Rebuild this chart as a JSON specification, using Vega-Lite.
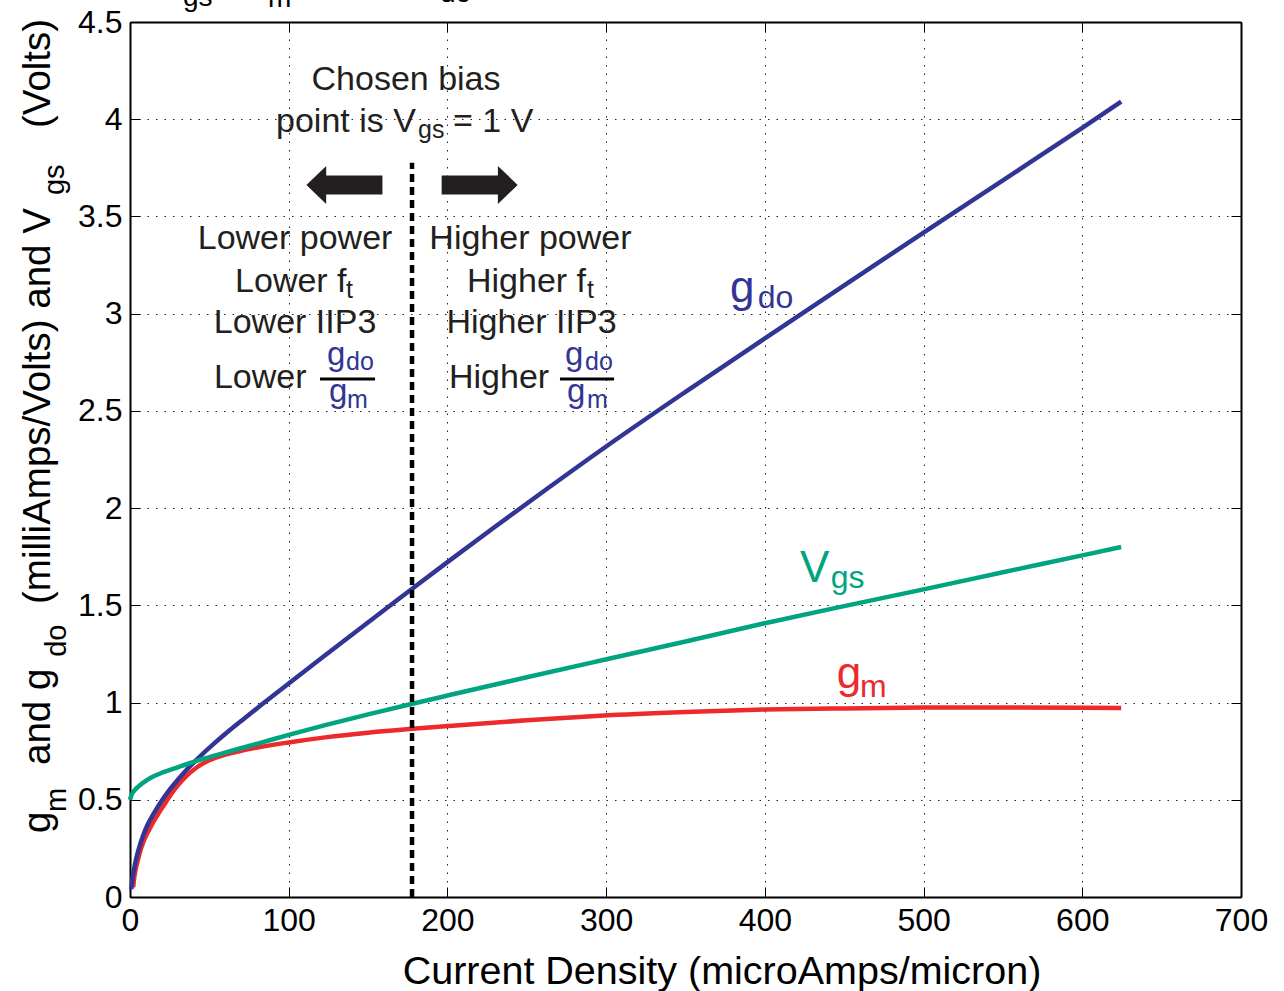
{
  "$schema": "https://vega.github.io/schema/vega-lite/v6.json",
  "width": 1111,
  "height": 875,
  "autosize": {"type": "none"},
  "padding": {"left": 130, "top": 22, "right": 43, "bottom": 94},
  "background": "white",
  "config": {
    "view": {"stroke": null},
    "text": {"font": "Liberation Sans"},
    "axis": {"labelFont": "Liberation Sans"}
  },
  "datasets": {
    "curves": [
      {"s": "gm", "x": 2, "y": 0.05}, {"s": "gm", "x": 2.5, "y": 0.09}, {"s": "gm", "x": 3.5, "y": 0.14}, {"s": "gm", "x": 5, "y": 0.19}, {"s": "gm", "x": 7, "y": 0.25}, {"s": "gm", "x": 9, "y": 0.295}, {"s": "gm", "x": 12, "y": 0.345}, {"s": "gm", "x": 15, "y": 0.39}, {"s": "gm", "x": 18, "y": 0.43}, {"s": "gm", "x": 22, "y": 0.48}, {"s": "gm", "x": 26, "y": 0.53}, {"s": "gm", "x": 30, "y": 0.573}, {"s": "gm", "x": 35, "y": 0.618}, {"s": "gm", "x": 42, "y": 0.666}, {"s": "gm", "x": 50, "y": 0.703}, {"s": "gm", "x": 60, "y": 0.732}, {"s": "gm", "x": 70, "y": 0.752}, {"s": "gm", "x": 81, "y": 0.77}, {"s": "gm", "x": 100, "y": 0.795}, {"s": "gm", "x": 123, "y": 0.821}, {"s": "gm", "x": 150, "y": 0.845}, {"s": "gm", "x": 178, "y": 0.865}, {"s": "gm", "x": 200, "y": 0.879}, {"s": "gm", "x": 250, "y": 0.909}, {"s": "gm", "x": 296, "y": 0.932}, {"s": "gm", "x": 350, "y": 0.951}, {"s": "gm", "x": 400, "y": 0.964}, {"s": "gm", "x": 450, "y": 0.97}, {"s": "gm", "x": 500, "y": 0.974}, {"s": "gm", "x": 550, "y": 0.975}, {"s": "gm", "x": 600, "y": 0.973}, {"s": "gm", "x": 624.5, "y": 0.972},
      {"s": "gdo", "x": 0.8, "y": 0.04}, {"s": "gdo", "x": 1.5, "y": 0.09}, {"s": "gdo", "x": 2.5, "y": 0.14}, {"s": "gdo", "x": 4, "y": 0.2}, {"s": "gdo", "x": 6, "y": 0.26}, {"s": "gdo", "x": 8, "y": 0.31}, {"s": "gdo", "x": 11, "y": 0.37}, {"s": "gdo", "x": 15, "y": 0.43}, {"s": "gdo", "x": 20, "y": 0.495}, {"s": "gdo", "x": 25, "y": 0.552}, {"s": "gdo", "x": 30, "y": 0.602}, {"s": "gdo", "x": 36, "y": 0.657}, {"s": "gdo", "x": 44, "y": 0.722}, {"s": "gdo", "x": 52, "y": 0.782}, {"s": "gdo", "x": 62, "y": 0.852}, {"s": "gdo", "x": 72, "y": 0.918}, {"s": "gdo", "x": 82, "y": 0.983}, {"s": "gdo", "x": 100, "y": 1.098}, {"s": "gdo", "x": 123, "y": 1.243}, {"s": "gdo", "x": 146, "y": 1.387}, {"s": "gdo", "x": 168, "y": 1.525}, {"s": "gdo", "x": 178, "y": 1.587}, {"s": "gdo", "x": 200, "y": 1.722}, {"s": "gdo", "x": 230, "y": 1.904}, {"s": "gdo", "x": 260, "y": 2.083}, {"s": "gdo", "x": 300, "y": 2.317}, {"s": "gdo", "x": 350, "y": 2.598}, {"s": "gdo", "x": 400, "y": 2.873}, {"s": "gdo", "x": 450, "y": 3.146}, {"s": "gdo", "x": 500, "y": 3.417}, {"s": "gdo", "x": 550, "y": 3.686}, {"s": "gdo", "x": 600, "y": 3.955}, {"s": "gdo", "x": 624.5, "y": 4.09},
      {"s": "vgs", "x": 0, "y": 0.5}, {"s": "vgs", "x": 1, "y": 0.525}, {"s": "vgs", "x": 2, "y": 0.54}, {"s": "vgs", "x": 3.2, "y": 0.552}, {"s": "vgs", "x": 5, "y": 0.566}, {"s": "vgs", "x": 7, "y": 0.58}, {"s": "vgs", "x": 9.5, "y": 0.595}, {"s": "vgs", "x": 14, "y": 0.617}, {"s": "vgs", "x": 19, "y": 0.635}, {"s": "vgs", "x": 24, "y": 0.65}, {"s": "vgs", "x": 30, "y": 0.667}, {"s": "vgs", "x": 36, "y": 0.684}, {"s": "vgs", "x": 44, "y": 0.705}, {"s": "vgs", "x": 55, "y": 0.731}, {"s": "vgs", "x": 68, "y": 0.761}, {"s": "vgs", "x": 81, "y": 0.79}, {"s": "vgs", "x": 100, "y": 0.834}, {"s": "vgs", "x": 123, "y": 0.884}, {"s": "vgs", "x": 150, "y": 0.939}, {"s": "vgs", "x": 178, "y": 0.994}, {"s": "vgs", "x": 200, "y": 1.036}, {"s": "vgs", "x": 250, "y": 1.13}, {"s": "vgs", "x": 296, "y": 1.215}, {"s": "vgs", "x": 350, "y": 1.314}, {"s": "vgs", "x": 400, "y": 1.408}, {"s": "vgs", "x": 450, "y": 1.496}, {"s": "vgs", "x": 500, "y": 1.582}, {"s": "vgs", "x": 550, "y": 1.67}, {"s": "vgs", "x": 600, "y": 1.757}, {"s": "vgs", "x": 624.5, "y": 1.8}
    ],
    "bias": [{"x": 177.7, "y": 0, "y2": 3.776}],
    "arrows": [{"dir": "left", "x": 135.1, "y": 3.662}, {"dir": "right", "x": 220.3, "y": 3.662}],
    "annC": [
      {"t": "Chosen bias", "x": 173.9, "y": 4.15},
      {"t": "Lower power", "x": 104.0, "y": 3.333},
      {"t": "Higher power", "x": 252.3, "y": 3.333},
      {"t": "Lower IIP3", "x": 104.0, "y": 2.901},
      {"t": "Higher IIP3", "x": 253.0, "y": 2.901}
    ],
    "annL": [
      {"t": "point is V", "x": 92.0, "y": 3.936},
      {"t": "= 1 V", "x": 203.5, "y": 3.936},
      {"t": "Lower f", "x": 66.2, "y": 3.113},
      {"t": "Higher f", "x": 212.3, "y": 3.113},
      {"t": "Lower", "x": 52.9, "y": 2.618},
      {"t": "Higher", "x": 201.0, "y": 2.618}
    ],
    "annS": [
      {"t": "gs", "x": 181.5, "y": 3.906},
      {"t": "t", "x": 136.1, "y": 3.08},
      {"t": "t", "x": 288.0, "y": 3.08}
    ],
    "fracG": [
      {"t": "g", "x": 124.1, "y": 2.736},
      {"t": "g", "x": 125.4, "y": 2.546},
      {"t": "g", "x": 274.1, "y": 2.736},
      {"t": "g", "x": 275.3, "y": 2.546}
    ],
    "fracS": [
      {"t": "do", "x": 136.1, "y": 2.71},
      {"t": "m", "x": 136.7, "y": 2.515},
      {"t": "do", "x": 286.7, "y": 2.71},
      {"t": "m", "x": 288.0, "y": 2.515}
    ],
    "bars": [
      {"x": 119.7, "x2": 154.4, "y": 2.664},
      {"x": 270.9, "x2": 305.0, "y": 2.664}
    ],
    "labMain": [
      {"s": "gdo", "t": "g", "x": 378.1, "y": 3.062},
      {"s": "vgs", "t": "V", "x": 422.2, "y": 1.622},
      {"s": "gm", "t": "g", "x": 445.3, "y": 1.074}
    ],
    "labSub": [
      {"s": "gdo", "t": "do", "x": 395.5, "y": 3.03},
      {"s": "vgs", "t": "gs", "x": 441.5, "y": 1.588},
      {"s": "gm", "t": "m", "x": 460.0, "y": 1.03}
    ],
    "yMain": [
      {"t": "g", "x": -50.4, "y": 0.329},
      {"t": "and g", "x": -50.4, "y": 0.679},
      {"t": "(milliAmps/Volts) and V", "x": -50.4, "y": 1.507},
      {"t": "(Volts)", "x": -50.4, "y": 3.955}
    ],
    "ySub": [
      {"t": "m", "x": -40.3, "y": 0.437},
      {"t": "do", "x": -40.3, "y": 1.235},
      {"t": "gs", "x": -41.6, "y": 3.61}
    ],
    "xTitle": [{"t": "Current Density (microAmps/micron)", "x": 373.0, "y": -0.447}],
    "topFrag": [
      {"t": "gs", "x": 33.4, "y": 4.583},
      {"t": "m", "x": 87.0, "y": 4.578},
      {"t": "do", "x": 195.3, "y": 4.603}
    ]
  },
  "layer": [
    {
      "data": {"name": "curves"},
      "mark": {"type": "line", "strokeWidth": 4.5, "interpolate": "monotone"},
      "encoding": {
        "x": {"field": "x", "type": "quantitative", "scale": {"domain": [0, 700], "nice": false, "zero": false},
          "axis": {"orient": "bottom", "title": null, "values": [0, 100, 200, 300, 400, 500, 600, 700],
            "grid": true, "gridColor": "#222222", "gridDash": [1.5, 7], "gridWidth": 1,
            "domainColor": "#000000", "domainWidth": 2, "tickColor": "#000000", "tickSize": -10, "tickWidth": 1,
            "labelFont": "Liberation Sans", "labelFontSize": 32, "labelColor": "#000000", "labelPadding": 18.6, "labelFlush": false, "labelOverlap": false, "labelBound": false}},
        "y": {"field": "y", "type": "quantitative", "scale": {"domain": [0, 4.5], "nice": false, "zero": false},
          "axis": {"orient": "left", "title": null, "values": [0, 0.5, 1, 1.5, 2, 2.5, 3, 3.5, 4, 4.5], "labelExpr": "'' + datum.value",
            "grid": true, "gridColor": "#222222", "gridDash": [1.5, 7], "gridWidth": 1,
            "domainColor": "#000000", "domainWidth": 2, "tickColor": "#000000", "tickSize": -10, "tickWidth": 1,
            "labelFont": "Liberation Sans", "labelFontSize": 32, "labelColor": "#000000", "labelPadding": 18, "labelFlush": false, "labelOverlap": false, "labelBound": false}},
        "color": {"field": "s", "type": "nominal", "scale": {"domain": ["gm", "gdo", "vgs"], "range": ["#ec2a2c", "#323594", "#00a480"]}, "legend": null}
      }
    },
    {
      "data": {"name": "bias"},
      "mark": {"type": "rule", "strokeDash": [8, 5], "strokeWidth": 4.5, "color": "#000000"},
      "encoding": {
        "x": {"field": "x", "type": "quantitative", "scale": {"domain": [0, 700], "nice": false, "zero": false},
          "axis": {"orient": "top", "title": null, "labels": false, "grid": false, "values": [0, 100, 200, 300, 400, 500, 600, 700],
            "domainColor": "#000000", "domainWidth": 2, "tickColor": "#000000", "tickSize": -10, "tickWidth": 1}},
        "y": {"field": "y", "type": "quantitative", "scale": {"domain": [0, 4.5], "nice": false, "zero": false},
          "axis": {"orient": "right", "title": null, "labels": false, "grid": false, "values": [0, 0.5, 1, 1.5, 2, 2.5, 3, 3.5, 4, 4.5],
            "domainColor": "#000000", "domainWidth": 2, "tickColor": "#000000", "tickSize": -10, "tickWidth": 1}},
        "y2": {"field": "y2"}
      }
    },
    {
      "data": {"name": "arrows"},
      "mark": {"type": "point", "filled": true, "size": 5776, "opacity": 1, "color": "#231f20", "strokeWidth": 0},
      "encoding": {
        "x": {"field": "x", "type": "quantitative", "axis": null},
        "y": {"field": "y", "type": "quantitative", "axis": null},
        "shape": {"field": "dir", "type": "nominal", "legend": null,
          "scale": {"domain": ["left", "right"], "range": ["M-1,0L-0.48,-0.5L-0.48,-0.25L1,-0.25L1,0.25L-0.48,0.25L-0.48,0.5Z", "M1,0L0.48,-0.5L0.48,-0.25L-1,-0.25L-1,0.25L0.48,0.25L0.48,0.5Z"]}}
      }
    },
    {
      "data": {"name": "annC"},
      "mark": {"type": "text", "font": "Liberation Sans", "fontSize": 34, "align": "center", "baseline": "alphabetic", "color": "#231f20"},
      "encoding": {"x": {"field": "x", "type": "quantitative", "axis": null}, "y": {"field": "y", "type": "quantitative", "axis": null}, "text": {"field": "t"}}
    },
    {
      "data": {"name": "annL"},
      "mark": {"type": "text", "font": "Liberation Sans", "fontSize": 34, "align": "left", "baseline": "alphabetic", "color": "#231f20"},
      "encoding": {"x": {"field": "x", "type": "quantitative", "axis": null}, "y": {"field": "y", "type": "quantitative", "axis": null}, "text": {"field": "t"}}
    },
    {
      "data": {"name": "annS"},
      "mark": {"type": "text", "font": "Liberation Sans", "fontSize": 25, "align": "left", "baseline": "alphabetic", "color": "#231f20"},
      "encoding": {"x": {"field": "x", "type": "quantitative", "axis": null}, "y": {"field": "y", "type": "quantitative", "axis": null}, "text": {"field": "t"}}
    },
    {
      "data": {"name": "fracG"},
      "mark": {"type": "text", "font": "Liberation Sans", "fontSize": 33, "align": "left", "baseline": "alphabetic", "color": "#323594"},
      "encoding": {"x": {"field": "x", "type": "quantitative", "axis": null}, "y": {"field": "y", "type": "quantitative", "axis": null}, "text": {"field": "t"}}
    },
    {
      "data": {"name": "fracS"},
      "mark": {"type": "text", "font": "Liberation Sans", "fontSize": 25, "align": "left", "baseline": "alphabetic", "color": "#323594"},
      "encoding": {"x": {"field": "x", "type": "quantitative", "axis": null}, "y": {"field": "y", "type": "quantitative", "axis": null}, "text": {"field": "t"}}
    },
    {
      "data": {"name": "bars"},
      "mark": {"type": "rule", "strokeWidth": 3, "color": "#000000"},
      "encoding": {"x": {"field": "x", "type": "quantitative", "axis": null}, "x2": {"field": "x2"}, "y": {"field": "y", "type": "quantitative", "axis": null}}
    },
    {
      "data": {"name": "labMain"},
      "mark": {"type": "text", "font": "Liberation Sans", "fontSize": 44, "align": "left", "baseline": "alphabetic"},
      "encoding": {"x": {"field": "x", "type": "quantitative", "axis": null}, "y": {"field": "y", "type": "quantitative", "axis": null}, "text": {"field": "t"},
        "color": {"field": "s", "type": "nominal", "legend": null}}
    },
    {
      "data": {"name": "labSub"},
      "mark": {"type": "text", "font": "Liberation Sans", "fontSize": 32, "align": "left", "baseline": "alphabetic"},
      "encoding": {"x": {"field": "x", "type": "quantitative", "axis": null}, "y": {"field": "y", "type": "quantitative", "axis": null}, "text": {"field": "t"},
        "color": {"field": "s", "type": "nominal", "legend": null}}
    },
    {
      "data": {"name": "yMain"},
      "mark": {"type": "text", "font": "Liberation Sans", "fontSize": 38.5, "align": "left", "baseline": "alphabetic", "angle": 270, "color": "#000000"},
      "encoding": {"x": {"field": "x", "type": "quantitative", "axis": null}, "y": {"field": "y", "type": "quantitative", "axis": null}, "text": {"field": "t"}}
    },
    {
      "data": {"name": "ySub"},
      "mark": {"type": "text", "font": "Liberation Sans", "fontSize": 29, "align": "left", "baseline": "alphabetic", "angle": 270, "color": "#000000"},
      "encoding": {"x": {"field": "x", "type": "quantitative", "axis": null}, "y": {"field": "y", "type": "quantitative", "axis": null}, "text": {"field": "t"}}
    },
    {
      "data": {"name": "xTitle"},
      "mark": {"type": "text", "font": "Liberation Sans", "fontSize": 39.5, "align": "center", "baseline": "alphabetic", "color": "#000000"},
      "encoding": {"x": {"field": "x", "type": "quantitative", "axis": null}, "y": {"field": "y", "type": "quantitative", "axis": null}, "text": {"field": "t"}}
    },
    {
      "data": {"name": "topFrag"},
      "mark": {"type": "text", "font": "Liberation Sans", "fontSize": 28, "align": "left", "baseline": "alphabetic", "color": "#000000"},
      "encoding": {"x": {"field": "x", "type": "quantitative", "axis": null}, "y": {"field": "y", "type": "quantitative", "axis": null}, "text": {"field": "t"}}
    }
  ],
  "resolve": {"axis": {"x": "independent", "y": "independent"}}
}
